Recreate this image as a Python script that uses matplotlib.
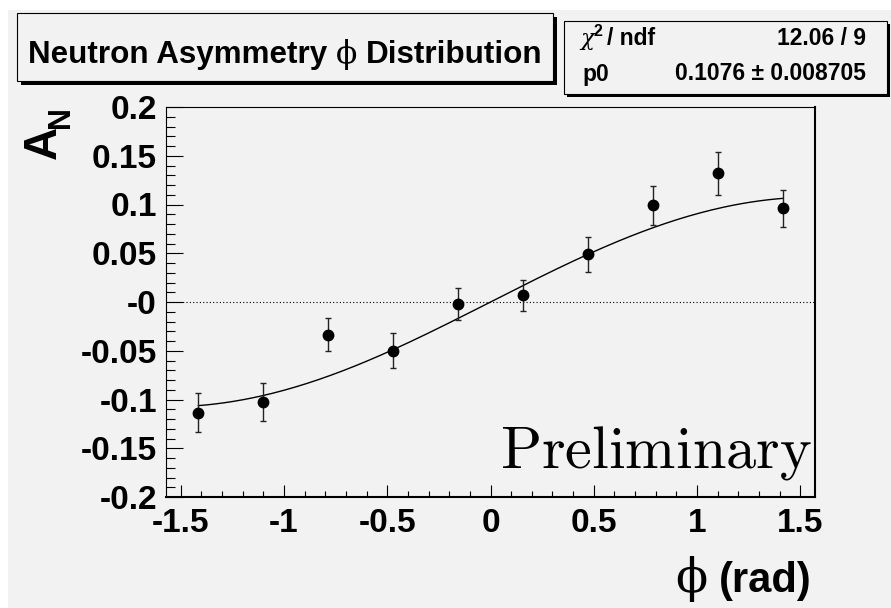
import numpy as np
import matplotlib
matplotlib.use('Agg')
import matplotlib.pyplot as plt
from matplotlib.patches import Rectangle
from matplotlib.ticker import FixedLocator, MultipleLocator

plt.rcParams['font.family'] = ['Liberation Sans', 'DejaVu Sans']
plt.rcParams['font.weight'] = 'bold'

# 10 phi bins over [-pi/2, pi/2], bin centres
phi = [-1.4137, -1.0996, -0.7854, -0.4712, -0.1571,
       0.1571, 0.4712, 0.7854, 1.0996, 1.4137]
asym = [-0.1135, -0.103, -0.0335, -0.050, -0.002,
        0.007, 0.049, 0.099, 0.132, 0.096]
asym_err = [0.0198, 0.0195, 0.0168, 0.018, 0.0164,
            0.016, 0.018, 0.0203, 0.022, 0.019]

# fit p0*sin(phi)
p0 = 0.1076
p0_err = 0.008705
chi2 = 12.06
ndf = 9

xticks = [-1.5, -1.0, -0.5, 0.0, 0.5, 1.0, 1.5]
xtick_labels = ['-1.5', '-1', '-0.5', '0', '0.5', '1', '1.5']
yticks = [-0.2, -0.15, -0.1, -0.05, 0.0, 0.05, 0.1, 0.15, 0.2]
ytick_labels = ['-0.2', '-0.15', '-0.1', '-0.05', '-0', '0.05', '0.1', '0.15', '0.2']

W, H = 891, 608
bg = '#f2f2f2'
greek = dict(family='DejaVu Serif', fontweight='normal')

def fx(px):
    return px / W

def fy(py):
    return 1 - py / H

def box(fig, x0, y0, x1, y1, s):
    # shadowed pave, pixel corners from top-left
    fig.add_artist(Rectangle((fx(x0 + s), fy(y1 + s)), fx(x1) - fx(x0), fy(y0) - fy(y1),
                             transform=fig.transFigure, facecolor='black', edgecolor='none', zorder=2))
    fig.add_artist(Rectangle((fx(x0), fy(y1)), fx(x1) - fx(x0), fy(y0) - fy(y1),
                             transform=fig.transFigure, facecolor=bg, edgecolor='black', lw=0.8, zorder=3))

def run_text(fig, x, y, parts, size, align='left'):
    # lay out pieces with different fonts on one baseline, x/y in pixels
    r = fig.canvas.get_renderer()
    arts = []
    for s, kw in parts:
        opts = dict(fontsize=size, ha='left', va='baseline', zorder=4)
        opts.update(kw)
        arts.append(fig.text(0, fy(y), s, **opts))
    widths = [t.get_window_extent(r).width for t in arts]
    # spaces at the piece edges are not measured, so add them by hand
    sp = fig.text(0, 0, 'a a', fontsize=size)
    sp2 = fig.text(0, 0, 'aa', fontsize=size)
    space = sp.get_window_extent(r).width - sp2.get_window_extent(r).width
    sp.remove()
    sp2.remove()
    total = sum(widths) + space * (len(arts) - 1)
    cur = x if align == 'left' else x - total
    for t, w in zip(arts, widths):
        t.set_x(fx(cur))
        cur += w + space
    return arts

fig = plt.figure(figsize=(W / 100, H / 100), dpi=100, facecolor='white')
fig.add_artist(Rectangle((fx(8), 0), 1 - fx(8), fy(9.5), transform=fig.transFigure,
                         facecolor=bg, edgecolor='none', zorder=0))

ax = fig.add_axes([fx(166), fy(497), fx(815) - fx(166), fy(107) - fy(497)])
ax.set_facecolor(bg)
ax.set_xlim(-np.pi / 2, np.pi / 2)
ax.set_ylim(-0.2, 0.2)

ax.axhline(0, color='black', lw=0.8, ls=(0, (1, 2)))
xf = np.linspace(phi[0], phi[-1], 200)
ax.plot(xf, p0 * np.sin(xf), color='black', lw=1.0)
ax.errorbar(phi, asym, yerr=asym_err, fmt='o', color='black', ms=7.5,
            elinewidth=1.0, capsize=2.2, capthick=1.0, ecolor='#222222')

ax.xaxis.set_major_locator(FixedLocator(xticks))
ax.set_xticklabels(xtick_labels)
ax.yaxis.set_major_locator(FixedLocator(yticks))
ax.set_yticklabels(ytick_labels)
ax.xaxis.set_minor_locator(MultipleLocator(0.1))
ax.yaxis.set_minor_locator(MultipleLocator(0.01))
ax.tick_params(axis='x', which='major', direction='in', length=8.6, width=0.8, labelsize=24, pad=8)
ax.tick_params(axis='x', which='minor', direction='in', length=4.3, width=0.8)
ax.tick_params(axis='y', which='major', direction='in', length=12.2, width=0.8, labelsize=24, pad=6.5)
ax.tick_params(axis='y', which='minor', direction='in', length=6.5, width=0.8)
for sp in ['left', 'top']:
    ax.spines[sp].set_linewidth(0.8)
for sp in ['right', 'bottom']:
    ax.spines[sp].set_linewidth(1.5)

fig.text(fx(812), fy(467.7), r'$\mathrm{Preliminary}$', math_fontfamily='cm',
         fontsize=43.5, ha='right', va='baseline')

# title pave
box(fig, 16.5, 12.5, 553, 81, 4)
run_text(fig, 28, 62.7, [('Neutron Asymmetry', {}), ('\u03d5', greek), ('Distribution', {})], 22.6)

# fit statistics pave
box(fig, 563.5, 21, 887, 94, 3)
fig.text(fx(580), fy(45), '\u03c7', fontsize=16.5, ha='left', va='baseline', zorder=4,
         family='DejaVu Serif', style='italic', fontweight='normal')
fig.text(fx(594), fy(36), '2', fontsize=11.5, ha='left', va='baseline', zorder=4)
fig.text(fx(607), fy(45), '/ ndf', fontsize=16.5, ha='left', va='baseline', zorder=4)
fig.text(fx(866), fy(45), f'{chi2:.2f} / {ndf}', fontsize=16.5, ha='right', va='baseline', zorder=4)
fig.text(fx(582), fy(80.5), 'p0', fontsize=16.5, ha='left', va='baseline', zorder=4)
fig.text(fx(866), fy(80.5), f'{p0} ± {p0_err}', fontsize=16.5, ha='right', va='baseline', zorder=4)

# axis titles
run_text(fig, 812, 592, [('\u03d5', dict(greek, fontsize=34)), ('(rad)', {})], 30, align='right')
fig.text(fx(43.5), fy(142), 'A', rotation=90, fontsize=33, ha='center', va='center')
fig.text(fx(61), fy(117.5), 'N', rotation=90, fontsize=22, ha='center', va='center')

fig.savefig('out.png', dpi=100, facecolor='white')
